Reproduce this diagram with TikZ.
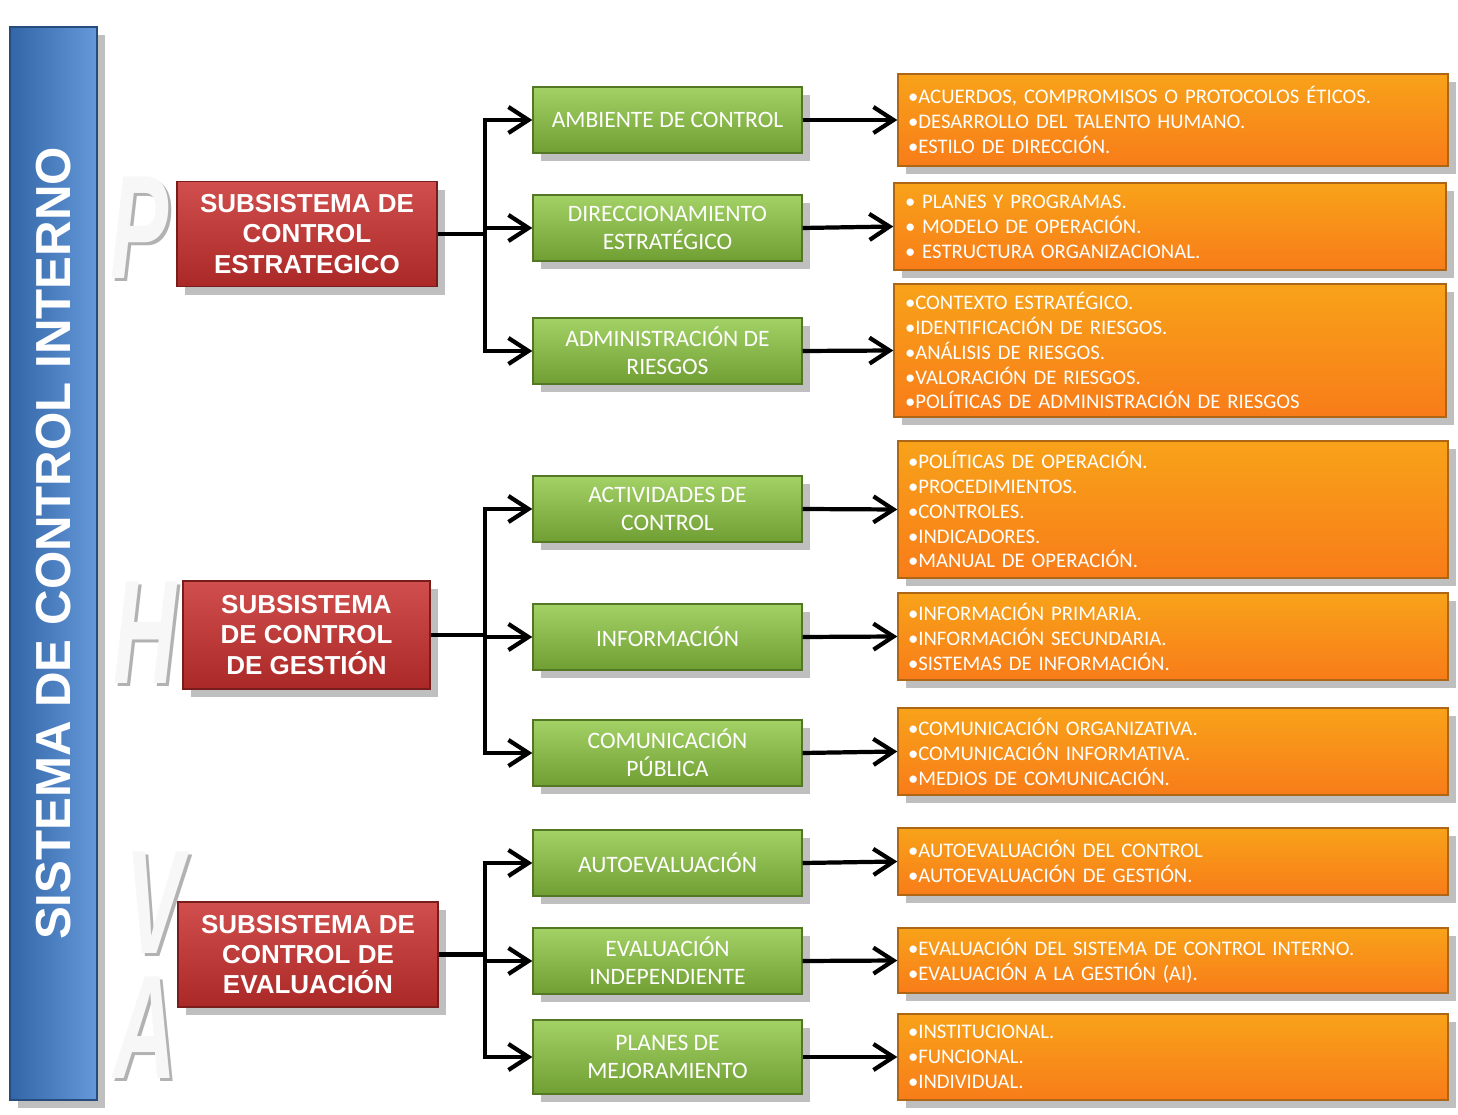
\documentclass[tikz,border=0pt]{standalone}
\usepackage{fontspec}
\setmainfont{Carlito}
\newfontfamily\boldsans{Liberation Sans}
\usetikzlibrary{positioning,shadows,arrows.meta}
\definecolor{rojo}{HTML}{C8302E}
\definecolor{verde}{HTML}{8CC63F}
\definecolor{naranja}{HTML}{F7921E}
\definecolor{azul}{HTML}{3F7FD0}
\tikzset{
  subbox/.style={draw=rojo!60!black, top color=rojo!85!white, bottom color=rojo!85!black,
    text=white, font=\boldsans\bfseries\fontsize{7.4}{8.6}\selectfont, align=center,
    minimum width=2.6cm, minimum height=1.05cm, drop shadow, inner sep=1pt},
  compbox/.style={draw=verde!60!black, top color=verde!80!white, bottom color=verde!80!black,
    text=white, font=\fontsize{6.7}{8}\selectfont, align=center,
    minimum width=2.69cm, minimum height=0.66cm, drop shadow, inner sep=1pt},
  elembox/.style={draw=naranja!70!black, top color=naranja!85!yellow, bottom color=naranja!85!red,
    text=white, font=\fontsize{5.9}{7.1}\selectfont, align=left, text width=5.3cm,
    minimum width=5.5cm, drop shadow, inner sep=2pt},
  letra/.style={font=\boldsans\bfseries\itshape\fontsize{40}{40}\selectfont, xscale=0.62, yscale=1.05},
  flecha/.style={-{Straight Barb[length=2mm,width=2.6mm]}, line width=1.2pt}
}
\begin{document}
\begin{tikzpicture}
    \useasboundingbox (0,0) rectangle (14.58,-11.15);
    % barra principal
    \node[draw=azul!60!black, left color=azul!80!black, right color=azul!80!white,
      minimum width=0.87cm, minimum height=10.73cm, drop shadow] (sci) at (0.535,-5.635) {};
    \node[rotate=90, text=white, font=\boldsans\bfseries\fontsize{14}{14}\selectfont]
      at ([yshift=0.2cm]sci) {SISTEMA DE CONTROL INTERNO};
    % letras PHVA
    \foreach \l/\x/\y in {P/1.40/-2.28, H/1.45/-6.33, V/1.55/-9.03, A/1.45/-10.28} {
        \node[letra, text=gray!60] at (\x+0.03,\y-0.03) {\l};
        \node[letra, text=gray!6] (l\l) at (\x,\y) {\l};
    }
    % subsistemas
    \node[subbox] (s1) at (3.07,-2.34) {SUBSISTEMA DE\\CONTROL\\ESTRATEGICO};
    \node[subbox, minimum width=2.47cm, minimum height=1.08cm] (s2) at (3.065,-6.35) {SUBSISTEMA\\DE CONTROL\\DE GESTIÓN};
    \node[subbox] (s3) at (3.08,-9.545) {SUBSISTEMA DE\\CONTROL DE\\EVALUACIÓN};
    % componentes
    \node[compbox] (c1) at (6.675,-1.20) {AMBIENTE DE CONTROL};
    \node[compbox] (c2) at (6.675,-2.28) {DIRECCIONAMIENTO\\ESTRATÉGICO};
    \node[compbox] (c3) at (6.675,-3.51) {ADMINISTRACIÓN DE\\RIESGOS};
    \node[compbox] (c4) at (6.675,-5.09) {ACTIVIDADES DE\\CONTROL};
    \node[compbox] (c5) at (6.675,-6.37) {INFORMACIÓN};
    \node[compbox] (c6) at (6.675,-7.53) {COMUNICACIÓN\\PÚBLICA};
    \node[compbox] (c7) at (6.675,-8.63) {AUTOEVALUACIÓN};
    \node[compbox] (c8) at (6.675,-9.61) {EVALUACIÓN\\INDEPENDIENTE};
    \node[compbox, minimum height=0.74cm] (c9) at (6.675,-10.57) {PLANES DE\\MEJORAMIENTO};
    % elementos
    \node[elembox, minimum height=0.92cm] (e1) at (11.73,-1.20) {•ACUERDOS, COMPROMISOS O PROTOCOLOS  ÉTICOS.\\•DESARROLLO DEL TALENTO HUMANO.\\•ESTILO DE DIRECCIÓN.};
    \node[elembox, minimum height=0.87cm, minimum width=5.52cm] (e2) at (11.70,-2.265) {• PLANES Y PROGRAMAS.\\• MODELO DE OPERACIÓN.\\• ESTRUCTURA ORGANIZACIONAL.};
    \node[elembox, minimum height=1.33cm, minimum width=5.52cm] (e3) at (11.70,-3.505) {•CONTEXTO ESTRATÉGICO.\\•IDENTIFICACIÓN DE RIESGOS.\\•ANÁLISIS DE RIESGOS.\\•VALORACIÓN DE RIESGOS.\\•POLÍTICAS DE ADMINISTRACIÓN DE RIESGOS};
    \node[elembox, minimum height=1.37cm] (e4) at (11.73,-5.095) {•POLÍTICAS DE OPERACIÓN.\\•PROCEDIMIENTOS.\\•CONTROLES.\\•INDICADORES.\\•MANUAL DE OPERACIÓN.};
    \node[elembox, minimum height=0.87cm] (e5) at (11.73,-6.365) {•INFORMACIÓN PRIMARIA.\\•INFORMACIÓN SECUNDARIA.\\•SISTEMAS DE INFORMACIÓN.};
    \node[elembox, minimum height=0.87cm] (e6) at (11.73,-7.515) {•COMUNICACIÓN ORGANIZATIVA.\\•COMUNICACIÓN INFORMATIVA.\\•MEDIOS DE COMUNICACIÓN.};
    \node[elembox, minimum height=0.67cm] (e7) at (11.73,-8.615) {•AUTOEVALUACIÓN DEL CONTROL\\•AUTOEVALUACIÓN DE GESTIÓN.};
    \node[elembox, minimum height=0.65cm] (e8) at (11.73,-9.605) {•EVALUACIÓN DEL SISTEMA DE CONTROL INTERNO.\\•EVALUACIÓN A LA GESTIÓN (AI).};
    \node[elembox, minimum height=0.86cm] (e9) at (11.73,-10.57) {•INSTITUCIONAL.\\•FUNCIONAL.\\•INDIVIDUAL.};
    % conectores
    \foreach \s/\a/\b/\c in {s1/c1/c2/c3, s2/c4/c5/c6, s3/c7/c8/c9} {
        \coordinate (j\s) at (4.85,0 |- \s.east);
        \draw[line width=1.2pt] (\s.east) -- (j\s);
        \foreach \t in {\a,\b,\c}
            \draw[flecha] (j\s) |- (\t.west);
    }
    \foreach \i in {1,...,9}
        \draw[flecha] (c\i.east) -- (e\i.west);
\end{tikzpicture}
\end{document}
